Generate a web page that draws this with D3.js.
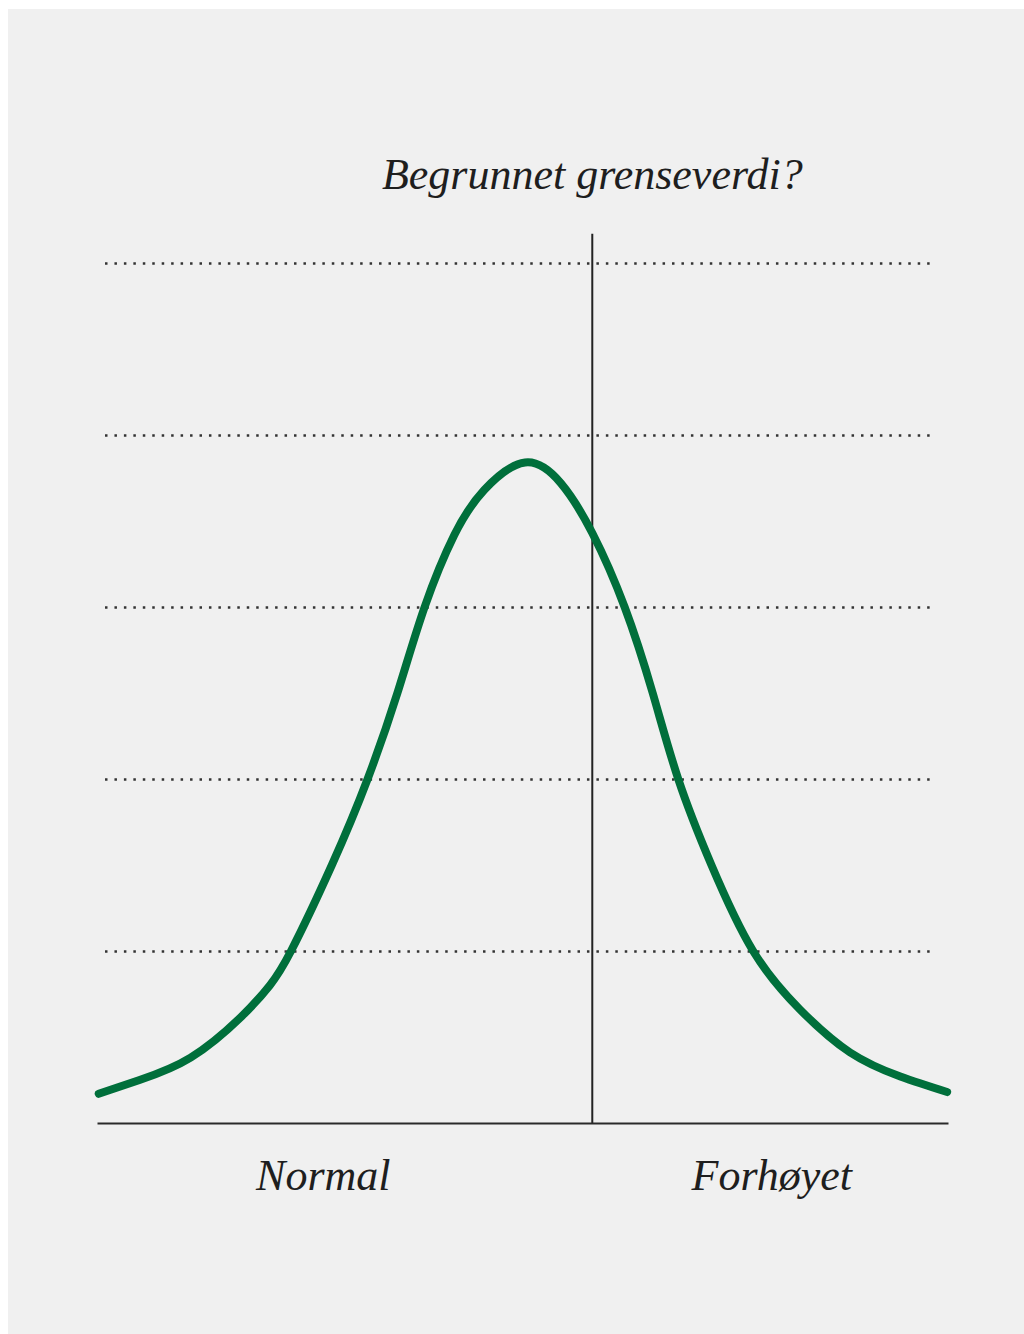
<!DOCTYPE html>
<html>
<head>
<meta charset="utf-8">
<script src="https://cdn.jsdelivr.net/npm/d3@7"></script>
<style>
  html, body { margin: 0; padding: 0; background: #ffffff; }
  svg { display: block; }
  .label { font-family: "Liberation Serif", serif; font-style: italic; fill: #1e1e1e; }
</style>
</head>
<body>
<div id="chart"></div>
<script>
// curve: x on a 0-100 scale, y in gridline units
const curveX = [0.2, 5, 11, 17, 20.3, 22.8, 27.6, 31.8, 35.3, 38.5, 42, 45.5, 50.3, 54.5, 58.2, 62, 65.3, 68.3, 72.2, 77.1, 82.6, 88.5, 94.4, 99.9];
const curveY = [0.17, 0.25, 0.38, 0.62, 0.8, 1.0, 1.5, 2.0, 2.5, 3.0, 3.42, 3.68, 3.84, 3.72, 3.43, 3.0, 2.5, 2.0, 1.5, 1.0, 0.66, 0.41, 0.27, 0.18];
const gridValues = [1, 2, 3, 4, 5];
const threshold = 58.2;
const thresholdTop = 5.17;
const titleText = 'Begrunnet grenseverdi?';
const categoryLabels = ['Normal', 'Forhøyet'];
const categoryPos = [26.6, 79.3];

const width = 1024;
const height = 1334;

const svg = d3.select('#chart').append('svg')
  .attr('width', width)
  .attr('height', height);

// grey panel
svg.append('rect')
  .attr('x', 8).attr('y', 9)
  .attr('width', width - 8).attr('height', height - 9)
  .attr('fill', '#f0f0f0');

const x = d3.scaleLinear().domain([0, 100]).range([97, 948]);
const y = d3.scaleLinear().domain([0, 5]).range([1123, 263]);

// dotted gridlines
const grid = svg.append('g')
  .attr('transform', 'translate(105,0)')
  .call(d3.axisLeft(y).tickValues(gridValues).tickSize(-(933 - 105)).tickFormat(''));
grid.select('.domain').remove();
grid.selectAll('.tick line')
  .attr('stroke', '#333')
  .attr('stroke-width', 2.5)
  .attr('stroke-dasharray', '2.5 6.95');

// threshold line
svg.append('line')
  .attr('x1', x(threshold)).attr('x2', x(threshold))
  .attr('y1', y(thresholdTop)).attr('y2', y(0))
  .attr('stroke', '#222')
  .attr('stroke-width', 2);

// bottom axis
const axis = svg.append('g')
  .attr('transform', `translate(0,${y(0)})`)
  .call(d3.axisBottom(x).tickValues([]).tickSizeOuter(0));
axis.select('.domain')
  .attr('stroke', '#2a2a2a')
  .attr('stroke-width', 2.2);

// distribution curve
const points = curveX.map((v, i) => [v, curveY[i]]);
const line = d3.line()
  .x(d => x(d[0]))
  .y(d => y(d[1]))
  .curve(d3.curveNatural);

svg.append('path')
  .datum(points)
  .attr('d', line)
  .attr('fill', 'none')
  .attr('stroke', '#006f3b')
  .attr('stroke-width', 8)
  .attr('stroke-linecap', 'round')
  .attr('stroke-linejoin', 'round');

// texts
svg.append('text')
  .attr('class', 'label')
  .attr('x', x(threshold))
  .attr('y', 189)
  .attr('text-anchor', 'middle')
  .style('font-size', '44px')
  .text(titleText);

svg.selectAll('.cat')
  .data(categoryLabels)
  .join('text')
  .attr('class', 'label cat')
  .attr('x', (d, i) => x(categoryPos[i]))
  .attr('y', 1190)
  .attr('text-anchor', 'middle')
  .style('font-size', '44px')
  .text(d => d);
</script>
</body>
</html>
